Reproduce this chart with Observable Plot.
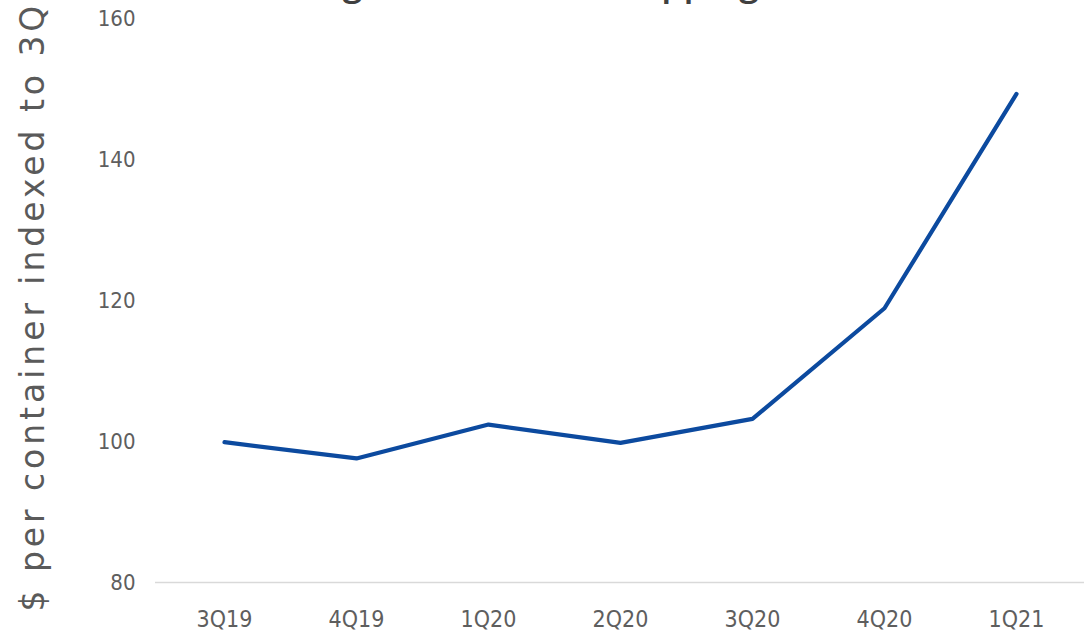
<!DOCTYPE html>
<html>
<head>
<meta charset="utf-8">
<script src="https://cdn.jsdelivr.net/npm/d3@7"></script>
<script src="https://cdn.jsdelivr.net/npm/@observablehq/plot@0.6"></script>
<style>
  html, body { margin: 0; padding: 0; background: #fff; overflow: hidden; }
  #wrap { position: relative; width: 1084px; height: 638px; overflow: hidden; }
  #title { position: absolute; top: -36px; left: 259px; font-family: "Open Sans", sans-serif; font-weight: 600; font-size: 36px; line-height: 36px; color: #404040; white-space: nowrap; }
  svg g[aria-label^="x-axis"] text, svg g[aria-label^="y-axis"] text { font-family: "Liberation Sans Narrow", "DejaVu Sans Condensed", sans-serif; }
  svg g[aria-label="text"] text { font-family: "DejaVu Sans", sans-serif; letter-spacing: 3.95px; }
</style>
</head>
<body>
<div id="wrap">
  <div id="title">Rising cost of ocean shipping</div>
  <div id="chart"></div>
</div>
<script>
const quarters = ["3Q19", "4Q19", "1Q20", "2Q20", "3Q20", "4Q20", "1Q21"];
const values = [99.9, 97.6, 102.4, 99.8, 103.2, 118.9, 149.3];
const yTicks = [80, 100, 120, 140, 160];
const yTitle = "$ per container indexed to 3Q19";

const data = quarters.map((q, i) => ({quarter: q, value: values[i]}));

const chart = Plot.plot({
  width: 1084,
  height: 638,
  marginTop: 18,
  marginBottom: 56,
  marginLeft: 155,
  marginRight: 0,
  style: {background: "transparent", fontSize: "22px", color: "#595959"},
  x: {type: "point", domain: quarters, padding: 0.5, label: null},
  y: {domain: [80, 160], label: null},
  marks: [
    Plot.ruleY([80], {stroke: "#d9d9d9", strokeWidth: 1.5}),
    Plot.axisX({tickSize: 0, tickPadding: 28, label: null, fontSize: 23, fill: "#5e5e5e"}),
    Plot.axisY({ticks: yTicks, tickSize: 0, tickPadding: 20, label: null, fontSize: 22, fill: "#5e5e5e"}),
    Plot.line(data, {x: "quarter", y: "value", stroke: "#0c4a9f", strokeWidth: 4.2, strokeLinejoin: "round", strokeLinecap: "round"}),
    Plot.text([yTitle], {frameAnchor: "bottom-left", dx: -112, dy: 29, rotate: -90, textAnchor: "start", fontSize: 33, fill: "#5a5a5a"})
  ]
});
document.getElementById("chart").appendChild(chart);
</script>
</body>
</html>
